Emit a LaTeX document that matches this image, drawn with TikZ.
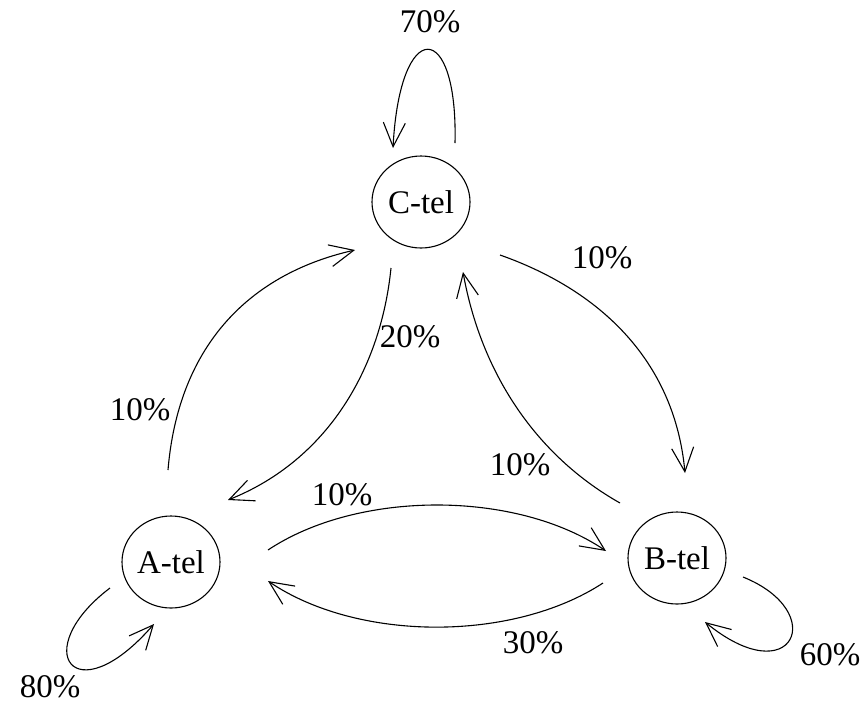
\documentclass[tikz,border=0pt]{standalone}
\usepackage{fontspec}
\setmainfont{Liberation Serif}
\usetikzlibrary{arrows.meta,shapes.geometric}

\tikzset{
  state/.style={draw, ellipse, line width=1.1pt, minimum width=98pt, minimum height=92pt,
                inner sep=0pt, font=\fontsize{33}{33}\selectfont},
  arr/.style={line width=1.1pt, -{Straight Barb[length=24pt,width=22pt,line width=1.1pt]}},
  pct/.style={font=\fontsize{33}{33}\selectfont, inner sep=0pt}
}

\begin{document}
\begin{tikzpicture}[x=1pt,y=-1pt]
  \useasboundingbox (0,0) rectangle (868,705);

  % states
  \node[state] (C) at (421,202) {C-tel};
  \node[state] (A) at (171,562) {A-tel};
  \node[state] (B) at (677,558) {B-tel};

  % self loops
  \draw[arr] ([shift={(34,-59)}]C.center) .. controls +(3,-124) and +(7,-132) .. ([shift={(-28,-54)}]C.center);
  \draw[arr] ([shift={(-61,26)}]A.center) .. controls +(-82,62) and +(-80,92) .. ([shift={(-17,62)}]A.center);
  \draw[arr] ([shift={(66,19)}]B.center) .. controls +(87,35) and +(88,72) .. ([shift={(28,64)}]B.center);

  % transitions between states
  \draw[arr] ([shift={(-3,-92)}]A.center) .. controls +(10,-120) and +(-110,25) .. ([shift={(-66,48)}]C.center);
  \draw[arr] ([shift={(-30,66)}]C.center) .. controls +(-10,100) and +(100,-40) .. ([shift={(57,-62)}]A.center);
  \draw[arr] ([shift={(79,53)}]C.center) .. controls +(105,37) and +(-10,-108) .. ([shift={(8,-85)}]B.center);
  \draw[arr] ([shift={(-57,-55)}]B.center) .. controls +(-85,-48) and +(18,100) .. ([shift={(42,70)}]C.center);
  \draw[arr] ([shift={(97,-12)}]A.center) .. controls +(90,-60) and +(-90,-61) .. ([shift={(-71,-7)}]B.center);
  \draw[arr] ([shift={(-74,25)}]B.center) .. controls +(-90,59) and +(90,61) .. ([shift={(97,19)}]A.center);

  % probabilities
  \node[pct] (pCC) at (430,22)  {70\%};
  \node[pct] (pAA) at (50,687)  {80\%};
  \node[pct] (pBB) at (830,655) {60\%};
  \node[pct] (pAC) at (140,410) {10\%};
  \node[pct] (pCA) at (410,337) {20\%};
  \node[pct] (pCB) at (602,258) {10\%};
  \node[pct] (pBC) at (520,465) {10\%};
  \node[pct] (pAB) at (342,495) {10\%};
  \node[pct] (pBA) at (533,643) {30\%};
\end{tikzpicture}
\end{document}
